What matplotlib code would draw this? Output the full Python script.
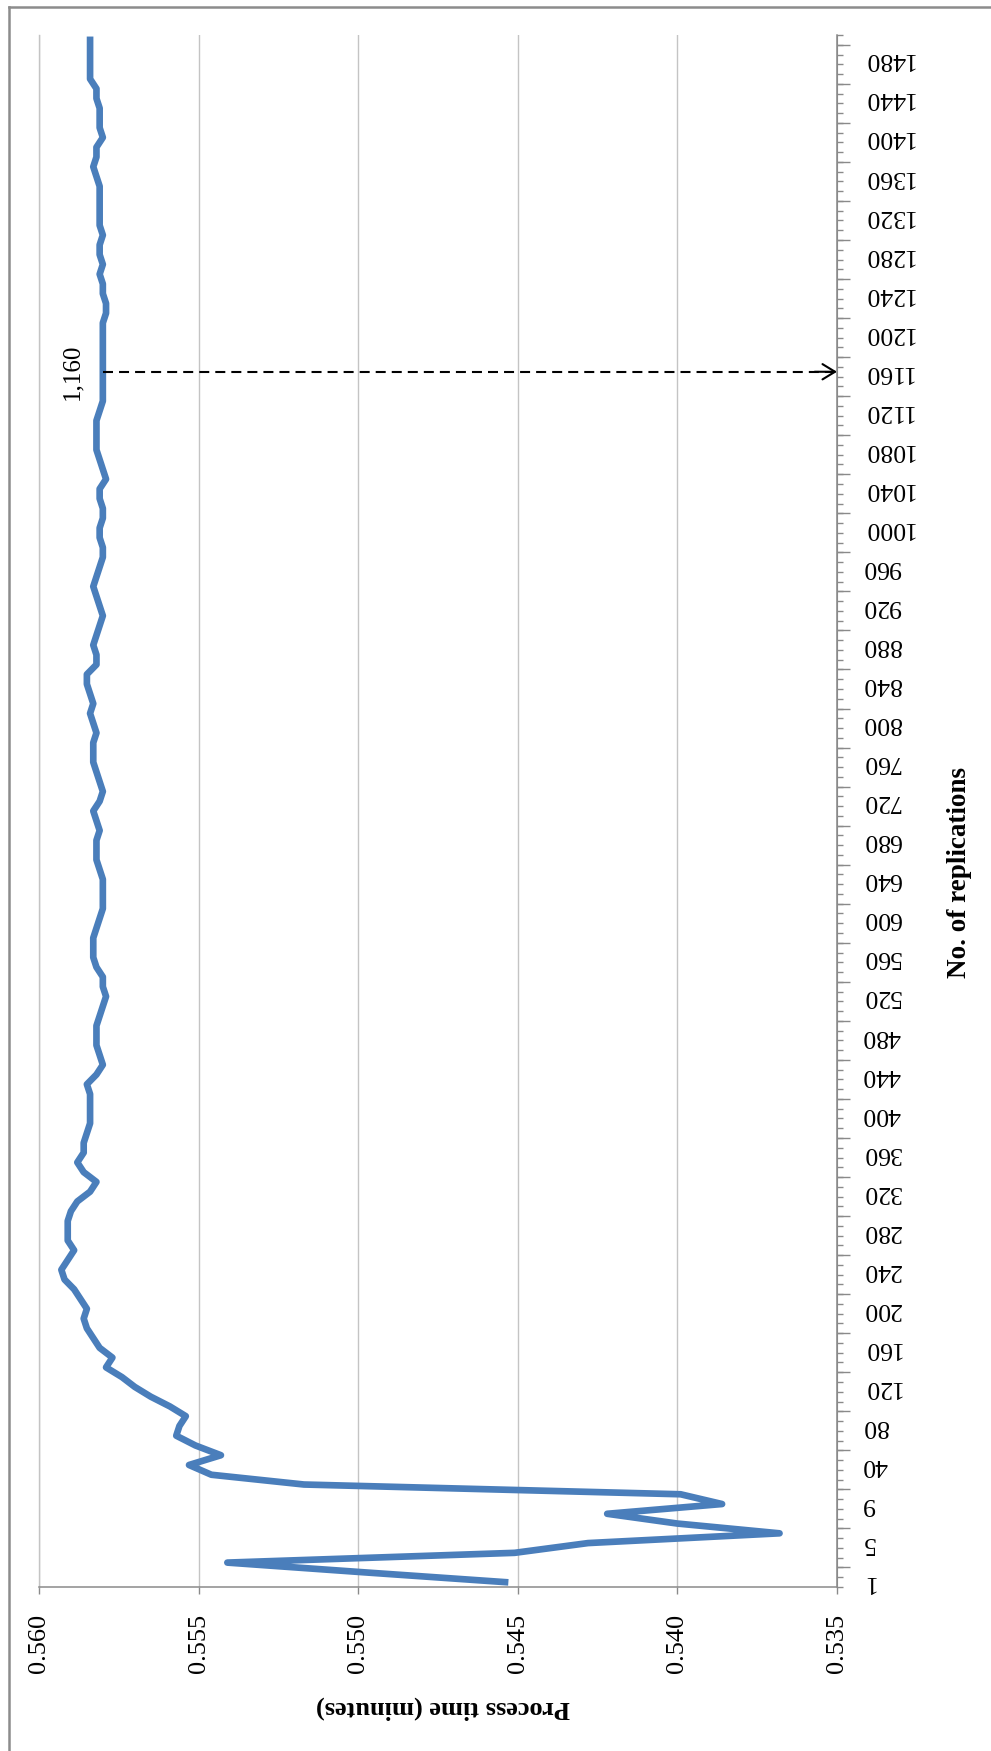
import matplotlib.pyplot as plt
from matplotlib.lines import Line2D
import numpy as np

# number of replications on the category axis and the mean process time (min)
replications = list(range(1, 11)) + list(range(20, 1510, 10))
process_time = [
    0.5454, 0.5498, 0.5541, 0.5451, 0.5428, 0.5368, 0.5400, 0.5422, 0.5386, 0.5399,
    0.5517, 0.5546, 0.5553, 0.5543, 0.5551, 0.5557, 0.5556, 0.5554, 0.5559, 0.5565,
    0.5570, 0.5574, 0.5579, 0.5577, 0.5581, 0.5583, 0.5585, 0.5586, 0.5585, 0.5587,
    0.5589, 0.5592, 0.5593, 0.5591, 0.5589, 0.5591, 0.5591, 0.5591, 0.5590, 0.5588,
    0.5584, 0.5582, 0.5586, 0.5588, 0.5586, 0.5586, 0.5585, 0.5584, 0.5584, 0.5584,
    0.5584, 0.5585, 0.5582, 0.5580, 0.5581, 0.5582, 0.5582, 0.5582, 0.5581, 0.5580,
    0.5579, 0.5580, 0.5580, 0.5582, 0.5583, 0.5583, 0.5583, 0.5582, 0.5581, 0.5580,
    0.5580, 0.5580, 0.5580, 0.5581, 0.5582, 0.5582, 0.5582, 0.5581, 0.5582, 0.5583,
    0.5581, 0.5580, 0.5581, 0.5582, 0.5583, 0.5583, 0.5583, 0.5582, 0.5583, 0.5584,
    0.5583, 0.5584, 0.5585, 0.5585, 0.5582, 0.5582, 0.5583, 0.5582, 0.5581, 0.5580,
    0.5581, 0.5582, 0.5583, 0.5582, 0.5581, 0.5580, 0.5580, 0.5581, 0.5581, 0.5580,
    0.5580, 0.5581, 0.5581, 0.5579, 0.5580, 0.5581, 0.5582, 0.5582, 0.5582, 0.5582,
    0.5581, 0.5580, 0.5580, 0.5580, 0.5580, 0.5580, 0.5580, 0.5580, 0.5580, 0.5580,
    0.5579, 0.5579, 0.5580, 0.5580, 0.5581, 0.5580, 0.5581, 0.5581, 0.5580, 0.5581,
    0.5581, 0.5581, 0.5581, 0.5581, 0.5582, 0.5583, 0.5582, 0.5582, 0.5580, 0.5581,
    0.5581, 0.5581, 0.5582, 0.5582, 0.5584, 0.5584, 0.5584, 0.5584, 0.5584,
]
value_ticks = [0.560, 0.555, 0.550, 0.545, 0.540, 0.535]
rep_labels = [str(r) for r in replications[::4]]
cutoff = 1160
cutoff_label = '1,160'

plt.rcParams['font.family'] = ['Liberation Serif', 'DejaVu Serif']

W, H = 991, 1751
fig = plt.figure(figsize=(W / 100, H / 100), dpi=100)
x0, x1, y0, y1 = 39, 837, 35, 1587
ax = fig.add_axes([x0 / W, 1 - y1 / H, (x1 - x0) / W, (y1 - y0) / H])

pos = np.arange(len(replications))
ax.plot(process_time, pos, color='#4a7ebb', lw=4.8, solid_joinstyle='round', zorder=3)

ax.set_xlim(value_ticks[0], value_ticks[-1])
ax.set_ylim(-0.5, len(replications) - 0.5)

axis_grey = '#8a8a8a'
ax.spines['top'].set_visible(False)
ax.spines['left'].set_color('#c4c4c4')
ax.spines['left'].set_linewidth(1)
for s in ['bottom', 'right']:
    ax.spines[s].set_color(axis_grey)
    ax.spines[s].set_linewidth(1.1)

# value axis along the bottom, labels turned on their side
ax.set_xticks(value_ticks, [f'{v:.3f}' for v in value_ticks], rotation=90, fontsize=19)
ax.tick_params(axis='x', length=5, width=1, color=axis_grey, pad=14)
ax.grid(axis='x', color='#c4c4c4', lw=1)
ax.set_axisbelow(True)

# replication axis on the right, every 4th category labelled
ax.yaxis.tick_right()
ax.set_yticks(pos[::4], rep_labels)
for lab in ax.get_yticklabels():
    lab.set_rotation(180)
    lab.set_ha('left')
    lab.set_va('center')
    lab.set_fontsize(18.5)
ax.tick_params(axis='y', which='major', length=0, pad=18)
ax.set_yticks(np.arange(-0.5, len(replications), 1), minor=True)
ax.tick_params(axis='y', which='minor', length=4, width=1, color=axis_grey)

sec = ax.secondary_yaxis('right')
sec.set_yticks(np.arange(1.5, len(replications), 4))
sec.tick_params(length=9, width=1, color=axis_grey, labelright=False)
sec.spines['right'].set_color(axis_grey)

# dashed marker at the chosen number of replications
i_cut = replications.index(cutoff)
v_cut = process_time[i_cut]
ax.plot([v_cut, value_ticks[-1]], [i_cut, i_cut], ls=(0, (4.8, 2.9)), color='k', lw=1.5, zorder=4)
ax.annotate('', xy=(value_ticks[-1], i_cut), xytext=(0.5357, i_cut), annotation_clip=False,
            arrowprops=dict(arrowstyle='->,head_length=0.9,head_width=0.55', color='k',
                            lw=1.5, shrinkA=0, shrinkB=0))
ax.text(0.55897, i_cut, cutoff_label, rotation=90, ha='center', va='center', fontsize=18)

fig.text(443 / W, 1 - 1708 / H, 'Process time (minutes)', rotation=180, ha='center',
         va='center', fontsize=19, fontweight='bold')
fig.text(960 / W, 1 - 872 / H, 'No. of replications', rotation=90, ha='center',
         va='center', fontsize=19.5, fontweight='bold')

# frame around the chart
fig.add_artist(Line2D([8.5 / W, 8.5 / W], [0, 1 - 7 / H], color='#8c8c8c', lw=1.8))
fig.add_artist(Line2D([8.5 / W, 1], [1 - 7 / H, 1 - 7 / H], color='#8c8c8c', lw=1.8))

fig.savefig('out.png', dpi=100)
